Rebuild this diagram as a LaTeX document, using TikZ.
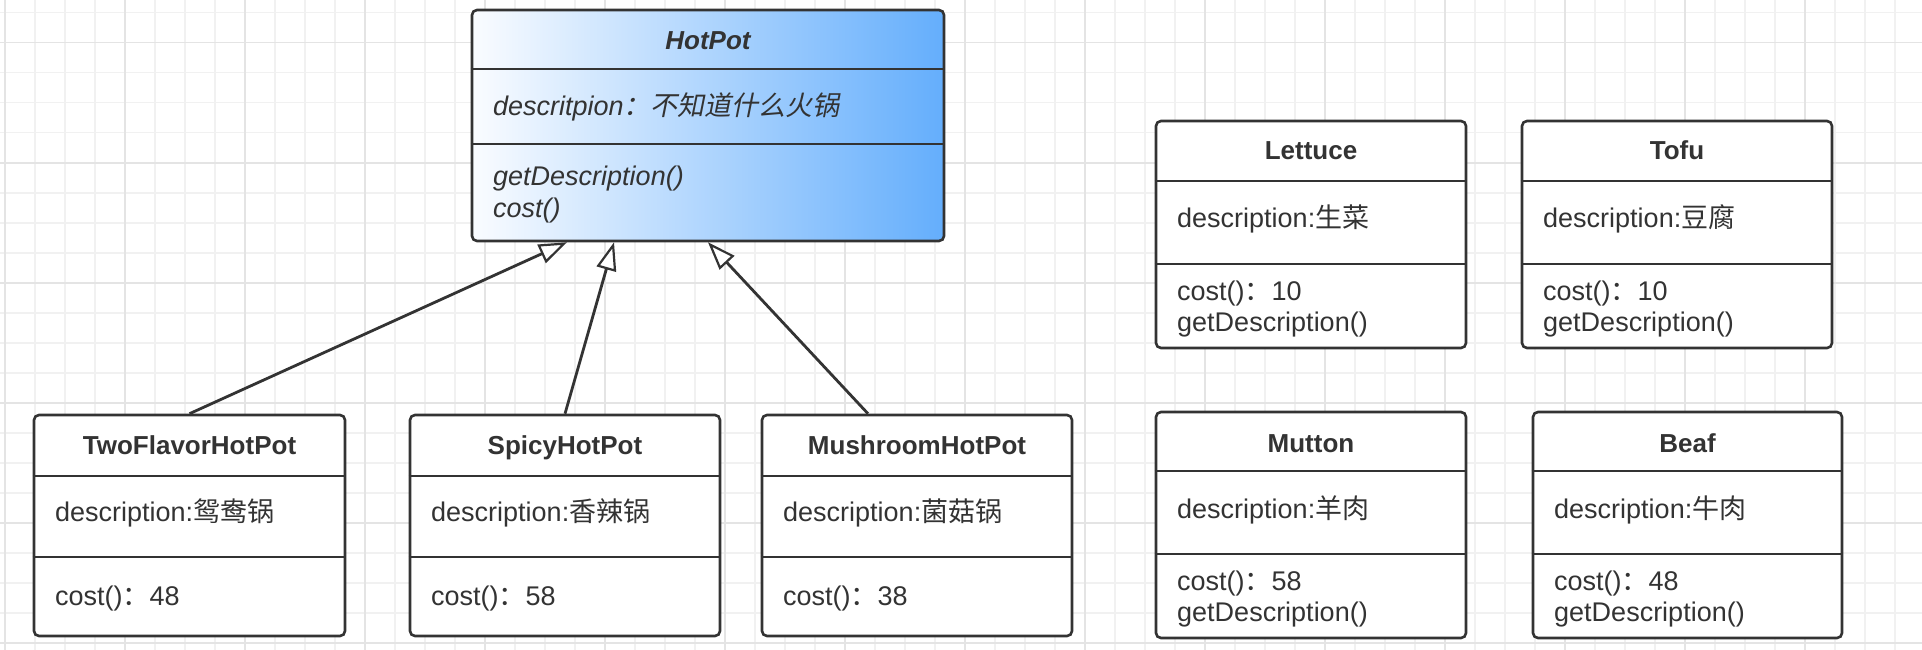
\documentclass[tikz,border=0pt]{standalone}
\usepackage{fontspec}
\setmainfont{Liberation Sans}
\newfontfamily\cjk{Noto Sans CJK SC}
\newfontfamily\cjkit[FakeSlant=0.2]{Noto Sans CJK SC}
\usetikzlibrary{arrows.meta}
\definecolor{ink}{HTML}{333333}
\definecolor{gminor}{HTML}{F1F1F1}
\definecolor{gmajor}{HTML}{E4E4E4}
\definecolor{hpright}{RGB}{100,174,252}
\definecolor{hpleft}{RGB}{250,252,255}
\tikzset{
  umlbox/.style={draw=ink, line width=2.6pt, rounded corners=5pt, fill=white, inner sep=0pt, rectangle},
  divl/.style={draw=ink, line width=2.6pt},
  txt/.style={font=\fontsize{27}{32}\selectfont, text=ink, inner sep=0pt},
  ttl/.style={font=\fontsize{26}{32}\selectfont\bfseries, text=ink, inner sep=0pt, anchor=base},
  inh/.style={draw=ink, line width=2.8pt, -{Triangle[open, fill=white, length=28pt, width=20pt, line width=2.2pt]}},
  gridminor/.style={draw=gminor, line width=1.6pt},
  gridmajor/.style={draw=gmajor, line width=1.6pt},
}
\begin{document}
\begin{tikzpicture}[x=1pt,y=-1pt]
\useasboundingbox (0,0) rectangle (1922,650);
\fill[white] (0,0) rectangle (1922,650);
% grid
\foreach \i in {0,...,64} {\pgfmathsetmacro\xx{5+30*\i}\draw[gridminor] (\xx,0) -- (\xx,650);}
\foreach \i in {0,...,21} {\pgfmathsetmacro\yy{12.7+30*\i}\draw[gridminor] (0,\yy) -- (1922,\yy);}
\foreach \i in {0,...,16} {\pgfmathsetmacro\xx{5+120*\i}\draw[gridmajor] (\xx,0) -- (\xx,650);}
\foreach \i in {0,...,5} {\pgfmathsetmacro\yy{42.7+120*\i}\draw[gridmajor] (0,\yy) -- (1922,\yy);}

% HotPot
\node[umlbox, left color=hpleft, right color=hpright, minimum width=472pt, minimum height=231pt] (hp) at (708,125.5) {};
\draw[divl] (hp.west |- 0,69) -- (hp.east |- 0,69);
\draw[divl] (hp.west |- 0,144) -- (hp.east |- 0,144);
\node[ttl, font=\fontsize{26}{32}\selectfont\bfseries\itshape] (hp-t) at (708,50) {HotPot};
\node[txt, anchor=base west, font=\fontsize{27}{32}\selectfont\itshape] (hp-d) at (493,116) {descritpion{\cjkit ：不知道什么火锅}};
\node[txt, anchor=base west, font=\fontsize{27}{32}\selectfont\itshape] (hp-m1) at (493,185) {getDescription()};
\node[txt, anchor=base west, font=\fontsize{27}{32}\selectfont\itshape] (hp-m2) at (493,217) {cost()};

% TwoFlavorHotPot
\node[umlbox, minimum width=311pt, minimum height=221pt] (tf) at (189.5,525.5) {};
\draw[divl] (tf.west |- 0,476) -- (tf.east |- 0,476);
\draw[divl] (tf.west |- 0,557) -- (tf.east |- 0,557);
\node[ttl] (tf-t) at (189.5,454) {TwoFlavorHotPot};
\node[txt, anchor=base west] (tf-d) at (55,521) {description:{\cjk 鸳鸯锅}};
\node[txt, anchor=base west] (tf-c) at (55,605) {cost(){\cjk ：}48};

% SpicyHotPot
\node[umlbox, minimum width=310pt, minimum height=221pt] (sp) at (565,525.5) {};
\draw[divl] (sp.west |- 0,476) -- (sp.east |- 0,476);
\draw[divl] (sp.west |- 0,557) -- (sp.east |- 0,557);
\node[ttl] (sp-t) at (565,454) {SpicyHotPot};
\node[txt, anchor=base west] (sp-d) at (431,521) {description:{\cjk 香辣锅}};
\node[txt, anchor=base west] (sp-c) at (431,605) {cost(){\cjk ：}58};

% MushroomHotPot
\node[umlbox, minimum width=310pt, minimum height=221pt] (mu) at (917,525.5) {};
\draw[divl] (mu.west |- 0,476) -- (mu.east |- 0,476);
\draw[divl] (mu.west |- 0,557) -- (mu.east |- 0,557);
\node[ttl] (mu-t) at (917,454) {MushroomHotPot};
\node[txt, anchor=base west] (mu-d) at (783,521) {description:{\cjk 菌菇锅}};
\node[txt, anchor=base west] (mu-c) at (783,605) {cost(){\cjk ：}38};

% Lettuce
\node[umlbox, minimum width=310pt, minimum height=227pt] (le) at (1311,234.5) {};
\draw[divl] (le.west |- 0,181) -- (le.east |- 0,181);
\draw[divl] (le.west |- 0,264) -- (le.east |- 0,264);
\node[ttl] (le-t) at (1311,160) {Lettuce};
\node[txt, anchor=base west] (le-d) at (1177,227) {description:{\cjk 生菜}};
\node[txt, anchor=base west] (le-c) at (1177,300) {cost(){\cjk ：}10};
\node[txt, anchor=base west] (le-g) at (1177,331) {getDescription()};

% Tofu
\node[umlbox, minimum width=310pt, minimum height=227pt] (to) at (1677,234.5) {};
\draw[divl] (to.west |- 0,181) -- (to.east |- 0,181);
\draw[divl] (to.west |- 0,264) -- (to.east |- 0,264);
\node[ttl] (to-t) at (1677,160) {Tofu};
\node[txt, anchor=base west] (to-d) at (1543,227) {description:{\cjk 豆腐}};
\node[txt, anchor=base west] (to-c) at (1543,300) {cost(){\cjk ：}10};
\node[txt, anchor=base west] (to-g) at (1543,331) {getDescription()};

% Mutton
\node[umlbox, minimum width=310pt, minimum height=226pt] (mt) at (1311,525) {};
\draw[divl] (mt.west |- 0,471) -- (mt.east |- 0,471);
\draw[divl] (mt.west |- 0,554) -- (mt.east |- 0,554);
\node[ttl] (mt-t) at (1311,452) {Mutton};
\node[txt, anchor=base west] (mt-d) at (1177,518) {description:{\cjk 羊肉}};
\node[txt, anchor=base west] (mt-c) at (1177,590) {cost(){\cjk ：}58};
\node[txt, anchor=base west] (mt-g) at (1177,621) {getDescription()};

% Beaf
\node[umlbox, minimum width=309pt, minimum height=226pt] (be) at (1687.5,525) {};
\draw[divl] (be.west |- 0,471) -- (be.east |- 0,471);
\draw[divl] (be.west |- 0,554) -- (be.east |- 0,554);
\node[ttl] (be-t) at (1687.5,452) {Beaf};
\node[txt, anchor=base west] (be-d) at (1554,518) {description:{\cjk 牛肉}};
\node[txt, anchor=base west] (be-c) at (1554,590) {cost(){\cjk ：}48};
\node[txt, anchor=base west] (be-g) at (1554,621) {getDescription()};

% inheritance arrows
\draw[inh] (tf.north) -- ([xshift=-141pt]hp.south);
\draw[inh] (sp.north) -- ([xshift=-94pt]hp.south);
\draw[inh] ([xshift=-49pt]mu.north) -- (hp.south);
\end{tikzpicture}
\end{document}
